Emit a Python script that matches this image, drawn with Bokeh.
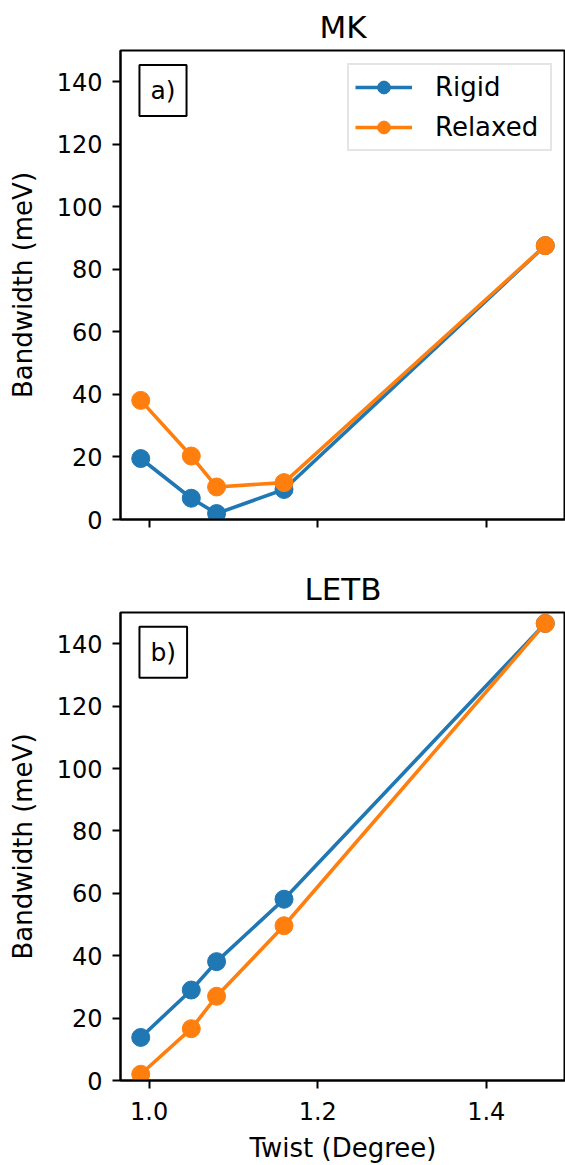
from bokeh.plotting import figure
from bokeh.layouts import column
from bokeh.models import Range1d, FixedTicker, Label, Legend, LegendItem
from bokeh.embed import file_html
from bokeh.resources import INLINE

# ---- data ----
twist = [0.99, 1.05, 1.08, 1.16, 1.47]
mk_rigid = [19.5, 6.8, 1.9, 9.6, 87.6]
mk_relaxed = [38.1, 20.3, 10.4, 11.8, 87.6]
letb_rigid = [13.8, 29.0, 38.1, 58.1, 146.5]
letb_relaxed = [2.0, 16.6, 27.0, 49.6, 146.5]
x_ticks = [1.0, 1.2, 1.4]
x_tick_labels = ["1.0", "1.2", "1.4"]
y_ticks = [0, 20, 40, 60, 80, 100, 120, 140]
series_names = ["Rigid", "Relaxed"]
colors = ["#1f77b4", "#ff7f0e"]

FONT = "DejaVu Sans"


def make_fig(title, height, mb_top, mb_bottom, show_x):
    p = figure(width=565, height=height,
               x_range=Range1d(0.966, 1.494), y_range=Range1d(0, 150),
               output_backend="svg", toolbar_location=None,
               min_border_left=120, min_border_right=0,
               min_border_top=mb_top, min_border_bottom=mb_bottom,
               title=title)
    p.title.text_font = FONT
    p.title.text_font_size = "31px"
    p.title.text_font_style = "normal"
    p.title.text_color = "black"
    p.title.align = "center"
    p.title.standoff = 12
    p.grid.visible = False
    p.outline_line_color = "black"
    p.outline_line_width = 2
    p.background_fill_color = "white"
    p.border_fill_color = "white"
    for ax in (p.xaxis[0], p.yaxis[0]):
        ax.axis_line_width = 2
        ax.axis_line_color = "black"
        ax.major_tick_line_width = 2
        ax.major_tick_out = 8
        ax.major_tick_in = 0
        ax.minor_tick_out = 0
        ax.minor_tick_in = 0
        ax.major_label_text_font = FONT
        ax.major_label_text_font_size = "24px"
        ax.major_label_text_color = "black"
        ax.axis_label_text_font = FONT
        ax.axis_label_text_font_size = "26px"
        ax.axis_label_text_font_style = "normal"
        ax.axis_label_text_color = "black"
    p.xaxis.ticker = FixedTicker(ticks=x_ticks)
    p.yaxis.ticker = FixedTicker(ticks=y_ticks)
    p.yaxis.axis_label = "Bandwidth (meV)"
    p.yaxis.major_label_standoff = 10
    p.yaxis.axis_label_standoff = 16
    if show_x:
        p.xaxis.major_label_overrides = {t: l for t, l in zip(x_ticks, x_tick_labels)}
        p.xaxis.axis_label = "Twist (Degree)"
        p.xaxis.major_label_standoff = 13
        p.xaxis.axis_label_standoff = 10
    else:
        p.xaxis.major_label_overrides = {t: "" for t in x_ticks}
    return p


def draw(p, ys, legend=False):
    items = []
    for name, y, c in zip(series_names, ys, colors):
        l = p.line(twist, y, line_color=c, line_width=3.6)
        s = p.scatter(twist, y, size=18, fill_color=c, line_color=c)
        items.append(LegendItem(label=name, renderers=[l, s]))
    if legend:
        lg = Legend(items=items, location="top_right")
        lg.label_text_font = FONT
        lg.label_text_font_size = "26px"
        lg.label_text_color = "black"
        lg.glyph_width = 57
        lg.glyph_height = 32
        lg.spacing = 8
        lg.padding = 6
        lg.label_standoff = 23
        lg.label_width = 109
        lg.margin = 13
        lg.border_line_color = "#cccccc"
        lg.border_line_width = 2
        lg.background_fill_alpha = 0.8
        p.add_layout(lg, "center")


def tag(p, text):
    lab = Label(x=0.9885, y=145.4, text=text, text_align="left",
                text_baseline="top", text_font=FONT, text_font_size="25px",
                text_color="black",
                border_line_color="black", border_line_width=2,
                background_fill_color="white", padding=11)
    p.add_layout(lab)


p1 = make_fig("MK", 559, 50, 40, False)
draw(p1, [mk_rigid, mk_relaxed], legend=True)
tag(p1, "a)")

p2 = make_fig("LETB", 606, 53, 84, True)
draw(p2, [letb_rigid, letb_relaxed])
tag(p2, "b)")

layout = column(p1, p2, spacing=0)
open("out.html", "w").write(file_html(layout, INLINE))
